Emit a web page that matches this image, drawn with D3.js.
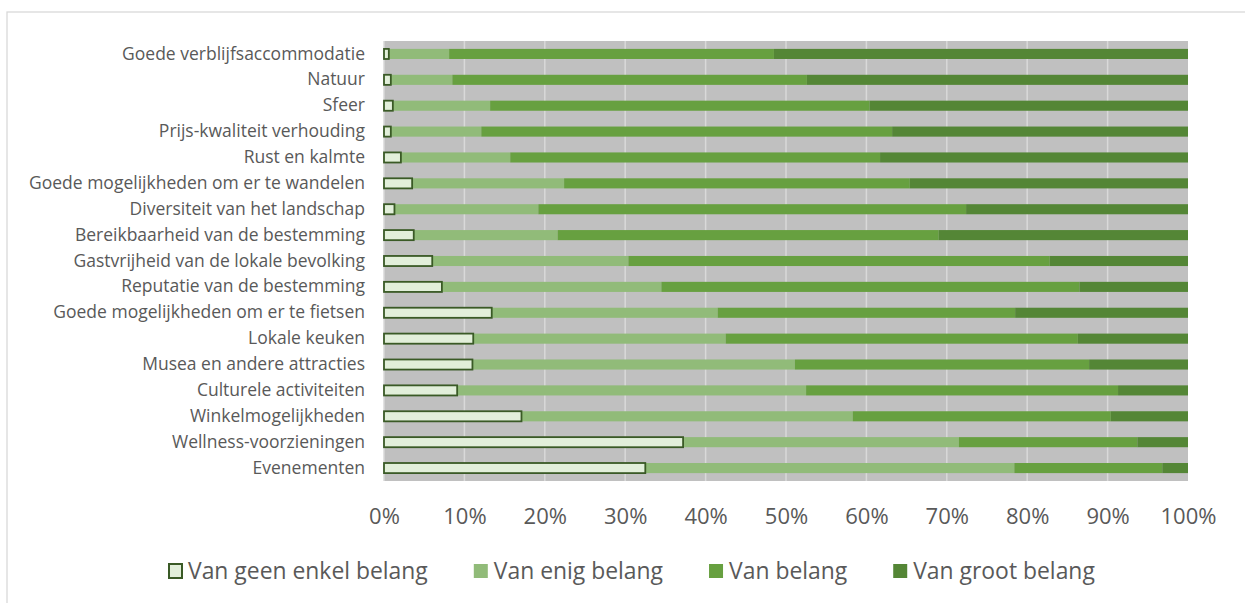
<!DOCTYPE html>
<html>
<head>
<meta charset="utf-8">
<script src="https://cdn.jsdelivr.net/npm/d3@7"></script>
<style>
  html, body { margin: 0; padding: 0; background: #ffffff; }
  svg { display: block; }
</style>
</head>
<body>
<svg id="chart" width="1245" height="603"></svg>
<script>
// Categories, top to bottom
const categories = [
  "Goede verblijfsaccommodatie",
  "Natuur",
  "Sfeer",
  "Prijs-kwaliteit verhouding",
  "Rust en kalmte",
  "Goede mogelijkheden om er te wandelen",
  "Diversiteit van het landschap",
  "Bereikbaarheid van de bestemming",
  "Gastvrijheid van de lokale bevolking",
  "Reputatie van de bestemming",
  "Goede mogelijkheden om er te fietsen",
  "Lokale keuken",
  "Musea en andere attracties",
  "Culturele activiteiten",
  "Winkelmogelijkheden",
  "Wellness-voorzieningen",
  "Evenementen"
];

// Share of respondents (%) per answer, in category order
const geenEnkelBelang = [0.6, 0.85, 1.1, 0.85, 2.1, 3.5, 1.3, 3.7, 6.0, 7.2, 13.4, 11.1, 11.0, 9.1, 17.1, 37.2, 32.5];
const enigBelang      = [7.5, 7.65, 12.1, 11.25, 13.6, 18.9, 17.9, 17.9, 24.4, 27.3, 28.1, 31.4, 40.1, 43.4, 41.2, 34.3, 45.9];
const belang          = [40.4, 44.1, 47.2, 51.1, 46.0, 43.0, 53.2, 47.4, 52.4, 52.0, 37.0, 43.8, 36.6, 38.8, 32.1, 22.2, 18.4];
const grootBelang     = [51.5, 47.4, 39.6, 36.8, 38.3, 34.6, 27.6, 31.0, 17.2, 13.5, 21.5, 13.7, 12.3, 8.7, 9.6, 6.3, 3.2];

const seriesNames = ["Van geen enkel belang", "Van enig belang", "Van belang", "Van groot belang"];
const tickValues = [0, 10, 20, 30, 40, 50, 60, 70, 80, 90, 100];

const seriesFill   = ["#e2efda", "#91bb79", "#67a040", "#548636"];
const seriesStroke = ["#3a5a26", null, null, null];
const textColor = "#595959";
const fontFamily = "'Open Sans', 'Noto Sans', sans-serif";

const rows = categories.map((c, i) => ({
  category: c,
  s0: geenEnkelBelang[i],
  s1: enigBelang[i],
  s2: belang[i],
  s3: grootBelang[i]
}));
const keys = ["s0", "s1", "s2", "s3"];
const stacked = d3.stack().keys(keys)(rows);

const svg = d3.select("#chart");

// Size a font so that a sample string spans a given width
function fitFontSize(sample, targetWidth) {
  const probe = svg.append("text")
    .style("font-family", fontFamily)
    .style("font-size", "20px")
    .text(sample);
  const w = probe.node().getComputedTextLength();
  probe.remove();
  return 20 * targetWidth / w;
}
const labelSize  = fitFontSize(categories[0], 243);
const tickSize   = fitFontSize("100%", 56);
const legendSize = fitFontSize(seriesNames[0], 240);

// Outer chart frame
svg.append("rect")
  .attr("x", 7).attr("y", 12)
  .attr("width", 1300).attr("height", 700)
  .attr("fill", "#ffffff")
  .attr("stroke", "#d9d9d9")
  .attr("stroke-width", 1.3);

const plot = { left: 384, right: 1188, top: 41, bottom: 481 };

const x = d3.scaleLinear().domain([0, 100]).range([plot.left, plot.right]);
const y = d3.scaleBand().domain(categories)
  .range([plot.top, plot.bottom])
  .paddingInner(0.61).paddingOuter(0.305);

// Plot area background
svg.append("rect")
  .attr("x", plot.left).attr("y", plot.top)
  .attr("width", plot.right - plot.left).attr("height", plot.bottom - plot.top)
  .attr("fill", "#c0c0c0");

// Vertical gridlines
svg.append("g")
  .selectAll("line")
  .data(tickValues.filter(v => v < 100))
  .join("line")
  .attr("x1", d => x(d)).attr("x2", d => x(d))
  .attr("y1", plot.top).attr("y2", plot.bottom)
  .attr("stroke", "#d9d9d9")
  .attr("stroke-width", 1.5);

// Stacked bars
const layers = svg.append("g")
  .selectAll("g")
  .data(stacked)
  .join("g")
  .attr("fill", (d, i) => seriesFill[i])
  .attr("stroke", (d, i) => seriesStroke[i] || "none")
  .attr("stroke-width", (d, i) => seriesStroke[i] ? 1.8 : 0);

layers.selectAll("rect")
  .data(d => d.map(v => ({ v, cat: v.data.category })))
  .join("rect")
  .attr("x", d => x(d.v[0]))
  .attr("width", d => x(d.v[1]) - x(d.v[0]))
  .attr("y", d => y(d.cat))
  .attr("height", y.bandwidth());
// outlined first segment on top
layers.filter((d, i) => i === 0).raise();

// X axis (labels only)
const xAxis = svg.append("g")
  .attr("transform", `translate(0, ${plot.bottom})`)
  .call(d3.axisBottom(x).tickValues(tickValues).tickFormat(d => d + "%").tickSize(0).tickPadding(27));
xAxis.select(".domain").remove();
xAxis.selectAll("text")
  .attr("fill", textColor)
  .style("font-family", fontFamily)
  .style("font-size", tickSize + "px");

// Y axis (category labels)
const yAxis = svg.append("g")
  .attr("transform", `translate(${plot.left}, 0)`)
  .call(d3.axisLeft(y).tickSize(0).tickPadding(19));
yAxis.select(".domain").remove();
yAxis.selectAll("text")
  .attr("fill", textColor)
  .style("font-family", fontFamily)
  .style("font-size", labelSize + "px");

// Legend
const legend = svg.append("g").attr("transform", "translate(168, 571)");
let cursor = 0;
seriesNames.forEach((name, i) => {
  const g = legend.append("g").attr("transform", `translate(${cursor}, 0)`);
  g.append("rect")
    .attr("x", i === 0 ? 1 : 0).attr("y", -7)
    .attr("width", i === 0 ? 13 : 14).attr("height", 14)
    .attr("fill", seriesFill[i])
    .attr("stroke", seriesStroke[i] || "none")
    .attr("stroke-width", seriesStroke[i] ? 2 : 0);
  const t = g.append("text")
    .attr("x", 20).attr("y", 0)
    .attr("dy", "0.35em")
    .attr("fill", textColor)
    .style("font-family", fontFamily)
    .style("font-size", legendSize + "px")
    .text(name);
  cursor += 20 + t.node().getComputedTextLength() + 46;
});
</script>
</body>
</html>
